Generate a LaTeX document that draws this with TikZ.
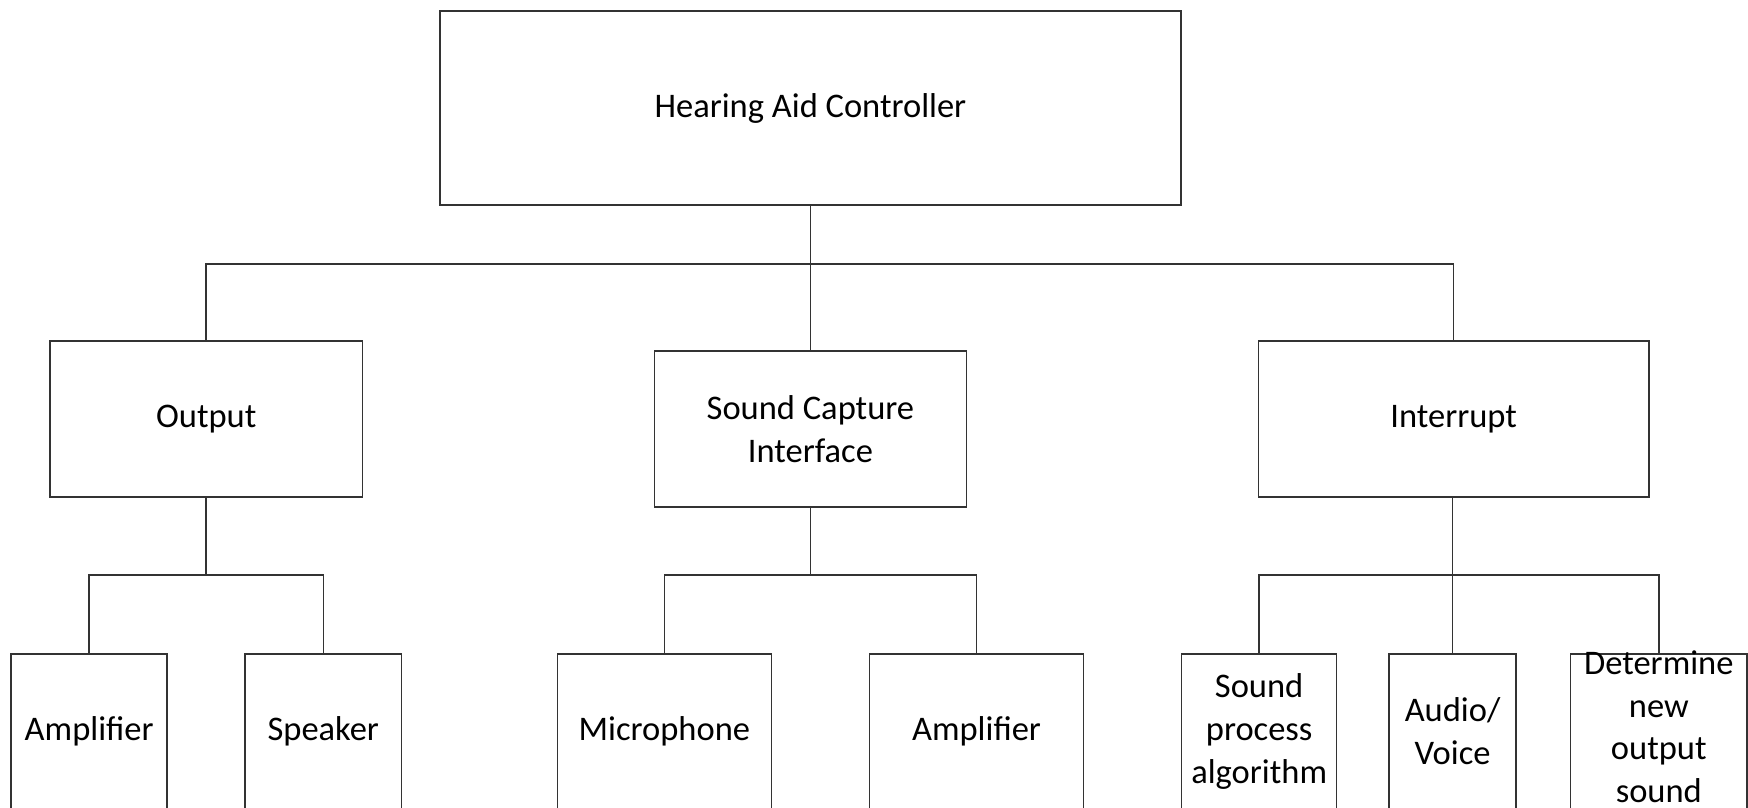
\documentclass[tikz,border=0pt]{standalone}
\usepackage{fontspec}
\setmainfont{Carlito}
\usepackage{tikz}

\begin{document}
\begin{tikzpicture}[x=0.01cm, y=-0.01cm,
                    line width=0.4pt,
                    box/.style={draw=black!80, rectangle, align=center,
                    inner sep=0pt,
                    font=\fontsize{8.8}{10.9}\selectfont},
                    leaf/.style n args={1}{draw=black!80, rectangle,
                    minimum width=#1, minimum height=3cm,
                    anchor=north, inner sep=0pt},
                    lbl/.style={align=center, inner sep=0pt,
                    font=\fontsize{8.8}{10.9}\selectfont}]
    \useasboundingbox (0,0) rectangle (1568,724);
    \clip (0,0) rectangle (1568,724);
    % top level
    \node[box, minimum width=6.64cm, minimum height=1.74cm] (hac) at (727,97) {Hearing Aid Controller};
    % second level
    \node[box, minimum width=2.8cm, minimum height=1.4cm] (out) at (185,376) {Output};
    \node[box, minimum width=2.8cm, minimum height=1.4cm] (sci) at (727,385) {Sound Capture\\Interface};
    \node[box, minimum width=3.5cm, minimum height=1.4cm] (intr) at (1304,376) {Interrupt};
    % leaves
    \node[leaf={1.4cm}] (amp1) at (80,586) {};
    \node[leaf={1.4cm}] (spk) at (290,586) {};
    \node[leaf={1.92cm}] (mic) at (596,586) {};
    \node[leaf={1.92cm}] (amp2) at (876,586) {};
    \node[leaf={1.39cm}] (spa) at (1129.5,586) {};
    \node[leaf={1.14cm}] (av) at (1303,586) {};
    \node[leaf={1.58cm}] (det) at (1488,586) {};
    \node[lbl] (amp1t) at (80,656) {Amplifier};
    \node[lbl] (spkt) at (290,656) {Speaker};
    \node[lbl] (mict) at (596,656) {Microphone};
    \node[lbl] (amp2t) at (876,656) {Amplifier};
    \node[lbl] (spat) at (1129.5,656) {Sound\\process\\algorithm};
    \node[lbl] (avt) at (1303,656) {Audio/\\Voice};
    \node[lbl] (dett) at (1488,652) {Determine\\new\\output\\sound};
    % junctions
    \coordinate (j0) at (727,237);
    \coordinate (j1) at (185,516);
    \coordinate (j2) at (727,516);
    \coordinate (j3) at (1303,516);
    % connectors
    \draw[black!80] (hac.south) -- (sci.north);
    \draw[black!80] (out.north) |- (j0) -| (intr.north);
    \draw[black!80] (out.south) -- (j1);
    \draw[black!80] (amp1.north) |- (j1) -| (spk.north);
    \draw[black!80] (sci.south) -- (j2);
    \draw[black!80] (mic.north) |- (j2) -| (amp2.north);
    \draw[black!80] (intr.south -| av.north) -- (av.north);
    \draw[black!80] (spa.north) |- (j3) -| (det.north);
\end{tikzpicture}
\end{document}
